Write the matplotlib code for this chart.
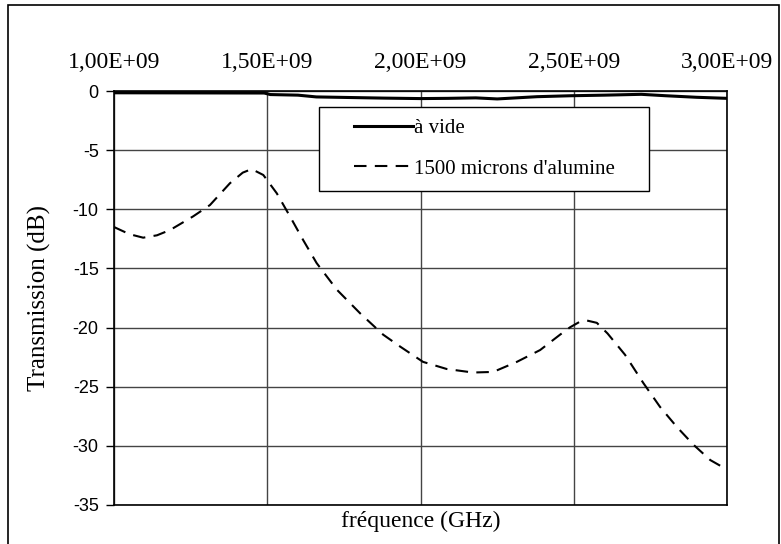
"""Transmission en fonction de la fréquence"""

import matplotlib.pyplot as plt
from matplotlib.patches import Rectangle

# courbe à vide (fréquence en Hz, transmission en dB)
freq_vide = [1.00e9, 1.49e9, 1.51e9, 1.60e9, 1.66e9, 1.88e9, 2.00e9, 2.09e9,
             2.18e9, 2.25e9, 2.38e9, 2.49e9, 2.60e9, 2.72e9, 2.80e9, 2.90e9,
             3.00e9]
trans_vide = [-0.15, -0.17, -0.30, -0.35, -0.50, -0.60, -0.64, -0.62,
              -0.58, -0.67, -0.48, -0.40, -0.35, -0.28, -0.40, -0.53, -0.62]

# courbe avec 1500 microns d'alumine
freq_alu = [1.000e9, 1.050e9, 1.095e9, 1.140e9, 1.183e9, 1.258e9, 1.313e9,
            1.378e9, 1.420e9, 1.449e9, 1.487e9, 1.531e9, 1.574e9, 1.617e9,
            1.661e9, 1.727e9, 1.803e9, 1.878e9, 1.933e9, 2.008e9, 2.085e9,
            2.171e9, 2.237e9, 2.314e9, 2.390e9, 2.455e9, 2.488e9, 2.520e9,
            2.542e9, 2.575e9, 2.610e9, 2.667e9, 2.727e9, 2.781e9, 2.836e9,
            2.890e9, 2.945e9, 2.983e9, 3.000e9]
trans_alu = [-11.5, -12.1, -12.4, -12.2, -11.75, -10.6, -9.64,
             -7.8, -6.9, -6.6, -7.1, -8.65, -10.6, -12.6,
             -14.55, -16.8, -18.8, -20.6, -21.6, -22.9, -23.5,
             -23.8, -23.75, -22.9, -21.9, -20.6, -19.97, -19.5,
             -19.4, -19.6, -20.5, -22.3, -24.7, -26.7, -28.4,
             -29.9, -31.2, -31.76, -32.0]

xticks = [1.0e9, 1.5e9, 2.0e9, 2.5e9, 3.0e9]
xlabels = ['1,00E+09', '1,50E+09', '2,00E+09', '2,50E+09', '3,00E+09']
yticks = [0, -5, -10, -15, -20, -25, -30, -35]

serif = 'Liberation Serif'
sans = 'Liberation Sans'

fig = plt.figure(figsize=(7.81, 5.44), dpi=100)
ax = fig.add_axes([0.146, 0.0717, 0.785, 0.761])

ax.plot(freq_vide, trans_vide, color='black', linewidth=2.2,
        linestyle='solid', label='à vide')
ax.plot(freq_alu, trans_alu, color='black', linewidth=1.5,
        dashes=(6, 4), label="1500 microns d'alumine")

ax.set_xlim(1.0e9, 3.0e9)
ax.set_ylim(-35, 0)

ax.xaxis.tick_top()
ax.set_xticks(xticks)
ax.set_xticklabels(xlabels, fontfamily=serif, fontsize=17)
ax.tick_params(axis='x', length=0, pad=13)
ax.set_yticks(yticks)
ax.set_yticklabels([str(v) for v in yticks], fontfamily=sans, fontsize=13)
ax.tick_params(axis='y', length=6, width=1, direction='out', pad=5)

ax.grid(True, color='#444444', linewidth=1)
ax.set_axisbelow(True)
for side in ['top', 'bottom', 'left', 'right']:
    ax.spines[side].set_color('black')
    ax.spines[side].set_linewidth(1.2)

ax.set_xlabel('fréquence (GHz)', fontfamily=serif, fontsize=17, labelpad=4)
ax.xaxis.set_label_position('bottom')
ax.set_ylabel('Transmission (dB)', fontfamily=serif, fontsize=18, labelpad=16)

# cadre de la légende, plus large que celui de matplotlib
ax.add_patch(Rectangle((0.3344, 0.7585), 0.5383, 0.2029, transform=ax.transAxes,
                       facecolor='white', edgecolor='black', linewidth=1,
                       zorder=4.5, clip_on=False))
leg = ax.legend(loc='center left', bbox_to_anchor=(0.3915, 0.861),
                prop={'family': serif, 'size': 15}, frameon=False,
                handlelength=2.85, handletextpad=0.05, borderpad=0,
                labelspacing=1.0, borderaxespad=0)
leg.set_zorder(5)

# cadre extérieur
fig.patches.append(Rectangle((8 / 781, -0.05), 771 / 781, 1.04, fill=False,
                             edgecolor='black', linewidth=1.2,
                             transform=fig.transFigure, figure=fig))

fig.savefig('out.png', dpi=100)
